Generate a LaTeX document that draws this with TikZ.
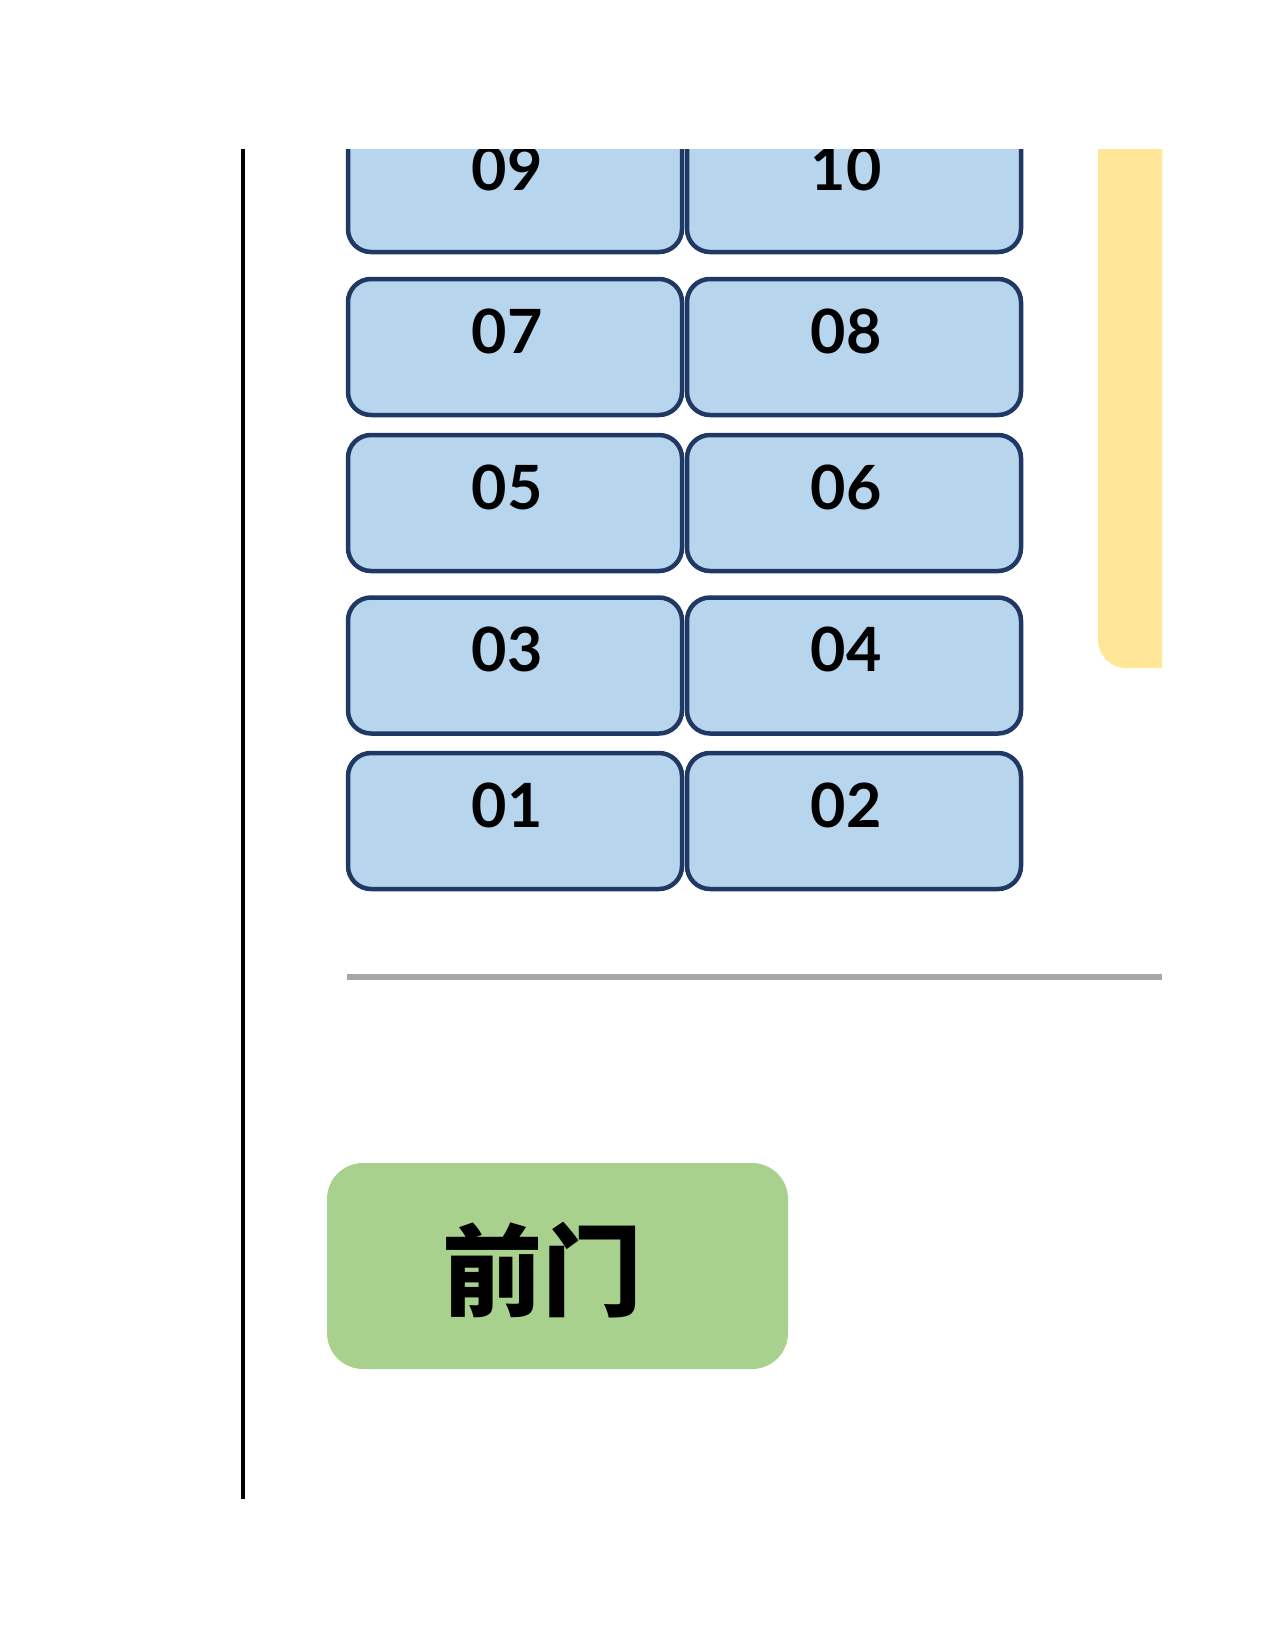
\documentclass[tikz,border=0pt]{standalone}
\usepackage{fontspec}
\setmainfont{Lato}
\newfontfamily\cjk{Noto Sans CJK SC}
\usetikzlibrary{calc}
\definecolor{cellfill}{HTML}{B8D5EE}
\definecolor{celldraw}{HTML}{203864}
\definecolor{gatefill}{HTML}{A9D18E}
\definecolor{sidefill}{HTML}{FFE699}
\definecolor{rulegray}{HTML}{A6A6A6}
\tikzset{
  cell/.style={draw=celldraw, fill=cellfill, line width=4.5pt, rounded corners=23pt,
    minimum width=334pt, minimum height=136pt, inner sep=0pt, outer sep=0pt},
  num/.style={font=\fontsize{61}{61}\selectfont\bfseries, inner sep=0pt},
  gate/.style={fill=gatefill, rounded corners=36pt, minimum width=461pt, minimum height=206pt, inner sep=0pt},
  gatetext/.style={font=\cjk\bfseries\fontsize{100}{100}\selectfont, inner sep=0pt},
}
\begin{document}
\begin{tikzpicture}[x=1pt,y=-1pt]
\useasboundingbox (0,0) rectangle (1275,1650);
% vertical wall line
\coordinate (wtop) at (243,149);
\coordinate (wbot) at (243,1499);
\draw[line width=4pt] (wtop) -- (wbot);
% clipped upper area
\begin{scope}
\clip (0,149) rectangle (1162,1650);
% yellow side bar
\fill[sidefill, rounded corners=28pt] (1098,100) rectangle (1220,668);
\fill[sidefill] (1130,100) rectangle (1220,668);
% cells
\foreach \n/\x/\y in {09/515/184, 10/854/184, 07/515/347, 08/854/347, 05/515/503, 06/854/503, 03/515/665.5, 04/854/665.5, 01/515/821, 02/854/821}{
  \node[cell] (b\n) at (\x,\y) {};
  \node[num] (t\n) at ($(b\n.north)+(-8,52)$) {\n};
}
\end{scope}
% gray rule
\coordinate (ra) at (347,977);
\coordinate (rb) at (1162,977);
\draw[rulegray, line width=6pt] (ra) -- (rb);
% front gate
\node[gate] (gate) at (557.5,1266) {};
\node[gatetext] (gt) at (542,1270) {前门};
\end{tikzpicture}
\end{document}
